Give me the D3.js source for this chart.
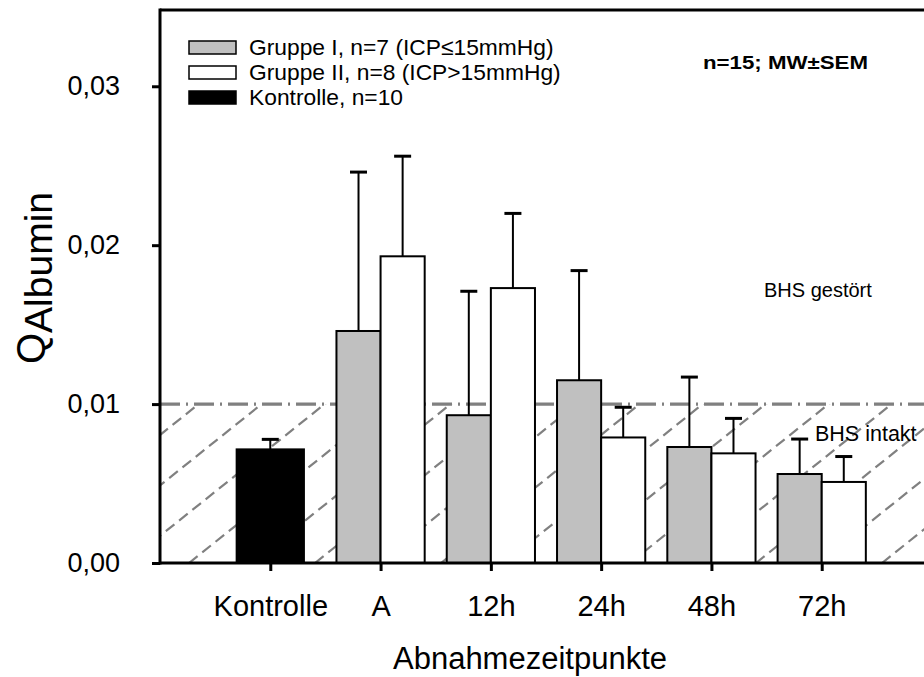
<!DOCTYPE html>
<html>
<head>
<meta charset="utf-8">
<script src="https://cdn.jsdelivr.net/npm/d3@7"></script>
<style>
  html, body { margin: 0; padding: 0; background: #fff; }
  svg { display: block; }
  text { font-family: "Liberation Sans", Arial, sans-serif; fill: #000; }
</style>
</head>
<body>
<svg id="chart" width="924" height="677"></svg>
<script>
// ---- data ----
const categories = ["Kontrolle", "A", "12h", "24h", "48h", "72h"];
const kontrolleMean = [0.00715, null, null, null, null, null];
const kontrolleSem  = [0.00063, null, null, null, null, null];
const gruppe1Mean = [null, 0.0146, 0.0093, 0.0115, 0.0073, 0.0056];
const gruppe1Sem  = [null, 0.0100, 0.0078, 0.0069, 0.0044, 0.0022];
const gruppe2Mean = [null, 0.0193, 0.0173, 0.0079, 0.0069, 0.0051];
const gruppe2Sem  = [null, 0.0063, 0.0047, 0.0019, 0.0022, 0.0016];
const yTicks = [0, 0.01, 0.02, 0.03];
const yTickLabels = ["0,00", "0,01", "0,02", "0,03"];
const thresholdValue = 0.01;
const legendLabels = ["Gruppe I, n=7 (ICP\u226415mmHg)", "Gruppe II, n=8 (ICP>15mmHg)", "Kontrolle, n=10"];
const legendFills = ["#c0c0c0", "#ffffff", "#000000"];

// ---- layout ----
const svg = d3.select("#chart");
const plotLeft = 160, plotBottom = 563, plotTop = 10, plotRight = 932;
const x = d3.scaleLinear().domain([0, 7]).range([plotLeft, plotRight]);
const y = d3.scaleLinear().domain([0, 0.0348]).range([plotBottom, plotTop]);
const pairW = 0.4;     // width of each group bar (x units)
const ctrlW = 0.61;    // width of control bar

// ---- hatched "BHS intakt" region ----
svg.append("clipPath").attr("id", "hatchClip")
  .append("rect").attr("x", plotLeft).attr("y", y(thresholdValue))
  .attr("width", 924 - plotLeft).attr("height", y(0) - y(thresholdValue));
const hatchG = svg.append("g").attr("clip-path", "url(#hatchClip)");
const unit = x(1) - x(0);
const hatchStep = 63 / unit;
const hatchStart = (189 - plotLeft) / unit;
const slope = 0.8;
const hatchLines = d3.range(-4, 14).map(k => hatchStart + k * hatchStep);
hatchG.selectAll("line").data(hatchLines).enter().append("line")
  .attr("x1", d => x(d)).attr("y1", y(0))
  .attr("x2", d => x(d) + (y(0) - y(thresholdValue) + 4) / slope)
  .attr("y2", y(thresholdValue) - 4)
  .attr("stroke", "#808080").attr("stroke-width", 2.2)
  .attr("stroke-dasharray", "11,6");

// threshold dash-dot line
svg.append("line")
  .attr("x1", plotLeft).attr("x2", 924)
  .attr("y1", y(thresholdValue)).attr("y2", y(thresholdValue))
  .attr("stroke", "#808080").attr("stroke-width", 3.2)
  .attr("stroke-dasharray", "20,6,2,6");

// ---- bars ----
const idx = d3.range(categories.length);
function drawSeries(means, sems, offset, width, fill) {
  const data = idx.filter(i => means[i] != null).map(i => ({i, m: means[i], s: sems[i]}));
  const g = svg.append("g");
  const cx = d => x(d.i + 1 + offset + width / 2);
  g.selectAll("line.err").data(data).enter().append("line").attr("class", "err")
    .attr("x1", cx).attr("x2", cx)
    .attr("y1", d => y(d.m)).attr("y2", d => y(d.m + d.s))
    .attr("stroke", "#000").attr("stroke-width", 2);
  g.selectAll("line.cap").data(data).enter().append("line").attr("class", "cap")
    .attr("x1", d => cx(d) - 8.5).attr("x2", d => cx(d) + 8.5)
    .attr("y1", d => y(d.m + d.s)).attr("y2", d => y(d.m + d.s))
    .attr("stroke", "#000").attr("stroke-width", 3);
  g.selectAll("rect").data(data).enter().append("rect")
    .attr("x", d => x(d.i + 1 + offset)).attr("width", x(width) - x(0))
    .attr("y", d => y(d.m)).attr("height", d => y(0) - y(d.m))
    .attr("fill", fill).attr("stroke", "#000").attr("stroke-width", 2);
}
drawSeries(kontrolleMean, kontrolleSem, -ctrlW / 2, ctrlW, "#000000");
drawSeries(gruppe1Mean, gruppe1Sem, -pairW, pairW, "#c0c0c0");
drawSeries(gruppe2Mean, gruppe2Sem, 0, pairW, "#ffffff");

// ---- frame & axes ----
svg.append("line").attr("x1", plotLeft).attr("x2", 924).attr("y1", plotTop).attr("y2", plotTop)
  .attr("stroke", "#000").attr("stroke-width", 3);

const yAxis = d3.axisLeft(y).tickValues(yTicks).tickFormat((d, i) => yTickLabels[i])
  .tickSize(8).tickPadding(32);
const yG = svg.append("g").attr("transform", `translate(${plotLeft},0)`).call(yAxis);
yG.select(".domain").remove();
yG.selectAll(".tick line").attr("stroke", "#000").attr("stroke-width", 3);
yG.selectAll(".tick text").style("font-size", "27px").style("font-family", "Liberation Sans, Arial, sans-serif");
svg.append("line").attr("x1", plotLeft).attr("x2", plotLeft).attr("y1", plotTop - 1.5).attr("y2", plotBottom + 1.5)
  .attr("stroke", "#000").attr("stroke-width", 3);

const xAxis = d3.axisBottom(x).tickValues(idx.map(i => i + 1)).tickFormat((d, i) => categories[i])
  .tickSize(8).tickPadding(24);
const xG = svg.append("g").attr("transform", `translate(0,${plotBottom})`).call(xAxis);
xG.select(".domain").remove();
xG.selectAll(".tick line").attr("stroke", "#000").attr("stroke-width", 3);
xG.selectAll(".tick text").style("font-size", "29px").style("font-family", "Liberation Sans, Arial, sans-serif");
svg.append("line").attr("x1", plotLeft).attr("x2", 924).attr("y1", plotBottom).attr("y2", plotBottom)
  .attr("stroke", "#000").attr("stroke-width", 3);

// axis titles
svg.append("text").attr("x", 530).attr("y", 669).attr("text-anchor", "middle")
  .style("font-size", "31px").text("Abnahmezeitpunkte");
const yTitle = svg.append("text").attr("transform", "translate(45,278) rotate(-90)")
  .attr("text-anchor", "middle");
yTitle.append("tspan").style("font-size", "40px").text("Q");
yTitle.append("tspan").attr("dy", 7).style("font-size", "39px").text("Albumin");

// ---- legend ----
const lg = svg.append("g");
legendLabels.forEach((t, i) => {
  const cy = 47 + i * 25;
  lg.append("rect").attr("x", 189).attr("y", cy - 6).attr("width", 47).attr("height", 13)
    .attr("fill", legendFills[i]).attr("stroke", "#000").attr("stroke-width", 1.5);
  lg.append("text").attr("x", 249).attr("y", cy + 8).style("font-size", "22.8px").text(t);
});

// annotations
svg.append("text").attr("x", 703).attr("y", 69).style("font-size", "19px").style("font-weight", "bold")
  .attr("textLength", 165).attr("lengthAdjust", "spacingAndGlyphs")
  .text("n=15; MW\u00b1SEM");
svg.append("text").attr("x", 764).attr("y", 297).style("font-size", "20px").text("BHS gestört");
svg.append("text").attr("x", 815).attr("y", 441).style("font-size", "21.5px").text("BHS intakt");
</script>
</body>
</html>
